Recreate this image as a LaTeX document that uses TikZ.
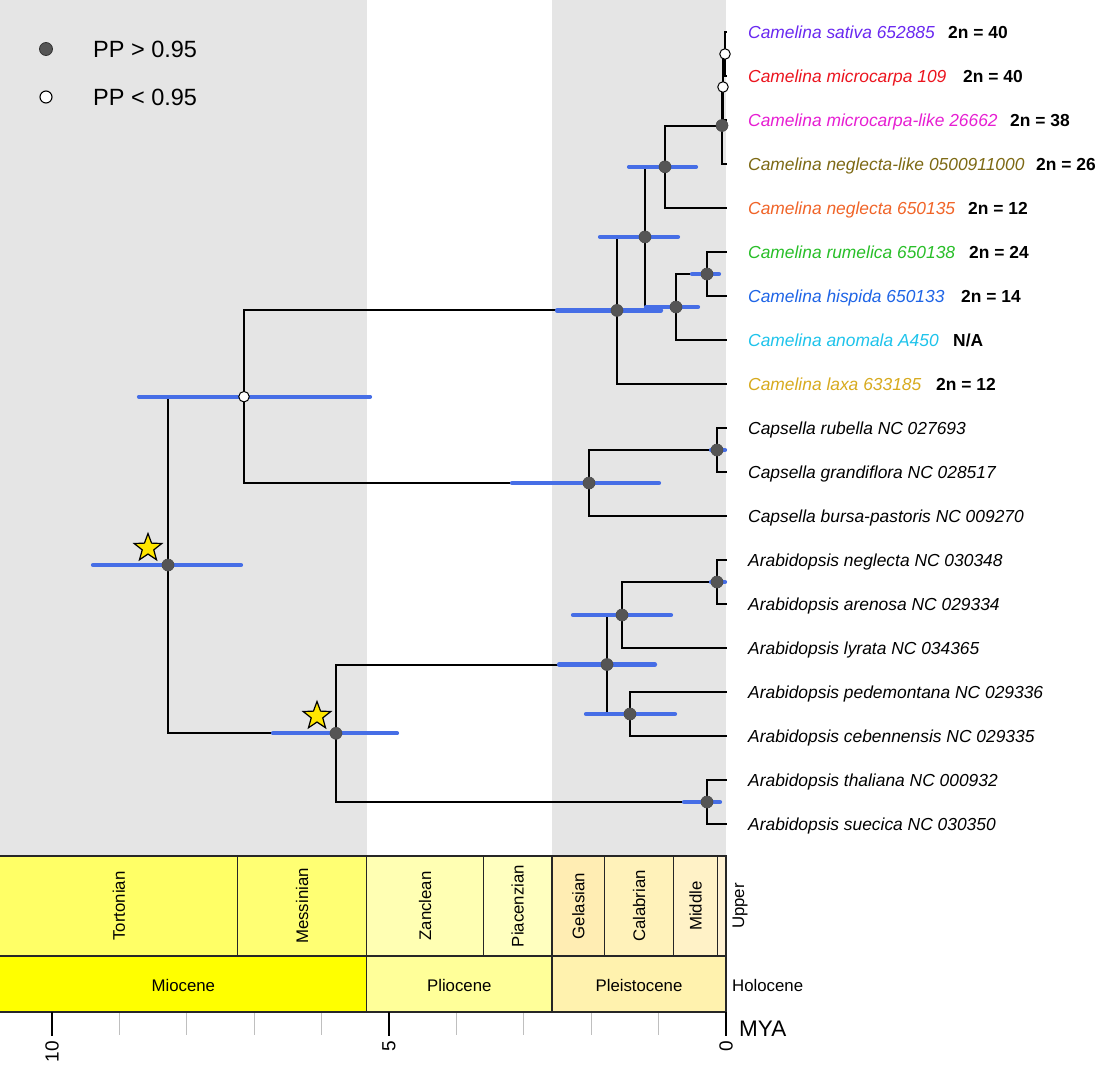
\documentclass[tikz,border=0pt]{standalone}
\usepackage{fontspec}
\setmainfont{Liberation Sans}
\usetikzlibrary{shapes.geometric}
\definecolor{bggray}{RGB}{229,229,229}
\definecolor{hpdblue}{RGB}{70,110,230}
\definecolor{dotgray}{RGB}{85,85,85}
\definecolor{staryellow}{RGB}{255,230,0}
\definecolor{cSat}{RGB}{105,40,240}
\definecolor{cMic}{RGB}{235,20,30}
\definecolor{cMicL}{RGB}{230,30,210}
\definecolor{cNegL}{RGB}{125,105,20}
\definecolor{cNeg}{RGB}{240,100,40}
\definecolor{cRum}{RGB}{40,190,40}
\definecolor{cHis}{RGB}{30,100,230}
\definecolor{cAno}{RGB}{30,195,235}
\definecolor{cLax}{RGB}{215,170,30}
\definecolor{cTort}{RGB}{255,255,102}
\definecolor{cMess}{RGB}{255,255,115}
\definecolor{cZanc}{RGB}{255,255,179}
\definecolor{cPiac}{RGB}{255,255,191}
\definecolor{cGela}{RGB}{255,237,179}
\definecolor{cCala}{RGB}{255,242,186}
\definecolor{cMidd}{RGB}{255,242,199}
\definecolor{cUppe}{RGB}{255,242,211}
\definecolor{cMioc}{RGB}{255,255,0}
\definecolor{cPlio}{RGB}{255,255,153}
\definecolor{cPlei}{RGB}{255,242,174}
\tikzset{
  br/.style={line width=2pt, black},
  hpd/.style={line width=4.2pt, hpdblue, line cap=round},
  ppd/.style={circle, fill=dotgray, draw=black!70, line width=0.6pt, inner sep=0pt, minimum size=12pt},
  ppw/.style={circle, fill=white, draw=black, line width=1pt, inner sep=0pt, minimum size=10.5pt},
  legd/.style={circle, fill=dotgray, draw=black!80, line width=0.8pt, inner sep=0pt, minimum size=13pt},
  legw/.style={circle, fill=white, draw=black, line width=1.1pt, inner sep=0pt, minimum size=12pt},
  nm/.style={anchor=base west, inner sep=0pt, font=\fontsize{17.4}{20}\selectfont\itshape},
  cn/.style={anchor=base west, inner sep=0pt, font=\fontsize{17.4}{20}\selectfont\bfseries},
  tsbox/.style={draw=black!85, line width=1.3pt},
  stg/.style={rotate=90, inner sep=0pt, font=\fontsize{16.8}{18}\selectfont},
  epo/.style={inner sep=0pt, font=\fontsize{16.8}{18}\selectfont},
  tickmaj/.style={line width=1.2pt, black},
  tickmin/.style={line width=1pt, black!25},
  ticklbl/.style={rotate=90, anchor=east, inner sep=0pt, font=\fontsize{19}{21}\selectfont},
  leg/.style={anchor=base west, inner sep=0pt, font=\fontsize{23.5}{26}\selectfont},
  starmark/.style={star, star points=5, star point ratio=2.4, minimum size=29pt, inner sep=0pt, fill=staryellow, draw=black, line width=1.2pt}
}
\begin{document}
\begin{tikzpicture}[x=1pt,y=-1pt]
\useasboundingbox (0,0) rectangle (1101,1071);
% background bands
\fill[bggray] (0,0) rectangle (366.6,856);
\fill[bggray] (552,0) rectangle (726,856);

% legend
\node[legd] (legd) at (46,49) {};
\node[leg] (legdt) at (93,57.4) {PP > 0.95};
\node[legw] (legw) at (46,97) {};
\node[leg] (legwt) at (93,105.4) {PP < 0.95};

% internal nodes
\coordinate (root) at (168,565);
\coordinate (CC) at (244,396.7);
\coordinate (Ar) at (336,733.3);
\coordinate (Cam) at (617,310.4);
\coordinate (A) at (645,236.9);
\coordinate (B) at (665,166.8);
\coordinate (D) at (722,125.5);
\coordinate (E) at (723,87);
\coordinate (F) at (725,54);
\coordinate (C) at (676,307);
\coordinate (G) at (707,274);
\coordinate (H) at (589,483);
\coordinate (I) at (717,450);
\coordinate (J) at (607,664.5);
\coordinate (L) at (622,615);
\coordinate (N) at (717,582);
\coordinate (M) at (630,714);
\coordinate (K) at (707,802);
% tips
\coordinate (t1) at (727,32);
\coordinate (t2) at (727,76);
\coordinate (t3) at (727,120);
\coordinate (t4) at (727,164);
\coordinate (t5) at (727,208);
\coordinate (t6) at (727,252);
\coordinate (t7) at (727,296);
\coordinate (t8) at (727,340);
\coordinate (t9) at (727,384);
\coordinate (t10) at (727,428);
\coordinate (t11) at (727,472);
\coordinate (t12) at (727,516);
\coordinate (t13) at (727,560);
\coordinate (t14) at (727,604);
\coordinate (t15) at (727,648);
\coordinate (t16) at (727,692);
\coordinate (t17) at (727,736);
\coordinate (t18) at (727,780);
\coordinate (t19) at (727,824);

% branches
\draw[br] (root) |- (CC); \draw[br] (root) |- (Ar);
\draw[br] (CC) |- (Cam); \draw[br] (CC) |- (H);
\draw[br] (Cam) |- (A); \draw[br] (Cam) |- (t9);
\draw[br] (A) |- (B); \draw[br] (A) |- (C);
\draw[br] (B) |- (D); \draw[br] (B) |- (t5);
\draw[br] (D) |- (E); \draw[br] (D) |- (t4);
\draw[br] (E) |- (F); \draw[br] (E) |- (t3);
\draw[br] (F) |- (t1); \draw[br] (F) |- (t2);
\draw[br] (C) |- (G); \draw[br] (C) |- (t8);
\draw[br] (G) |- (t6); \draw[br] (G) |- (t7);
\draw[br] (H) |- (I); \draw[br] (H) |- (t12);
\draw[br] (I) |- (t10); \draw[br] (I) |- (t11);
\draw[br] (Ar) |- (J); \draw[br] (Ar) |- (K);
\draw[br] (J) |- (L); \draw[br] (J) |- (M);
\draw[br] (L) |- (N); \draw[br] (L) |- (t15);
\draw[br] (N) |- (t13); \draw[br] (N) |- (t14);
\draw[br] (M) |- (t16); \draw[br] (M) |- (t17);
\draw[br] (K) |- (t18); \draw[br] (K) |- (t19);

% HPD bars
\draw[hpd] (93,565) -- (241,565);
\draw[hpd] (139,396.7) -- (370,396.7);
\draw[hpd] (273,733.3) -- (397,733.3);
\draw[hpd] (557,310.4) -- (661,310.4);
\draw[hpd] (600,236.9) -- (678,236.9);
\draw[hpd] (629,166.8) -- (696,166.8);
\draw[hpd] (646,307) -- (698,307);
\draw[hpd] (692,274) -- (719,274);
\draw[hpd] (512,483) -- (659,483);
\draw[hpd] (711,450) -- (725,450);
\draw[hpd] (559,664.5) -- (655,664.5);
\draw[hpd] (573,615) -- (671,615);
\draw[hpd] (711,582) -- (725,582);
\draw[hpd] (586,714) -- (675,714);
\draw[hpd] (684,802) -- (720,802);

% node dots
\node[ppd] (nroot) at (root) {};
\node[ppw] (nCC) at (CC) {};
\node[ppd] (nAr) at (Ar) {};
\node[ppd] (nCam) at (Cam) {};
\node[ppd] (nA) at (A) {};
\node[ppd] (nB) at (B) {};
\node[ppd] (nD) at (D) {};
\node[ppw] (nE) at (E) {};
\node[ppw] (nF) at (F) {};
\node[ppd] (nC) at (C) {};
\node[ppd] (nG) at (G) {};
\node[ppd] (nH) at (H) {};
\node[ppd] (nI) at (I) {};
\node[ppd] (nJ) at (J) {};
\node[ppd] (nL) at (L) {};
\node[ppd] (nN) at (N) {};
\node[ppd] (nM) at (M) {};
\node[ppd] (nK) at (K) {};

% stars
\node[starmark] (star1) at (148,548) {};
\node[starmark] (star2) at (317,716) {};

% tip labels
\node[nm, text=cSat] (l1) at (748,38.2) {Camelina sativa 652885};
\node[nm, text=cMic] (l2) at (748,82.2) {Camelina microcarpa 109};
\node[nm, text=cMicL] (l3) at (748,126.2) {Camelina microcarpa-like 26662};
\node[nm, text=cNegL] (l4) at (748,170.2) {Camelina neglecta-like 0500911000};
\node[nm, text=cNeg] (l5) at (748,214.2) {Camelina neglecta 650135};
\node[nm, text=cRum] (l6) at (748,258.2) {Camelina rumelica 650138};
\node[nm, text=cHis] (l7) at (748,302.2) {Camelina hispida 650133};
\node[nm, text=cAno] (l8) at (748,346.2) {Camelina anomala A450};
\node[nm, text=cLax] (l9) at (748,390.2) {Camelina laxa 633185};
\node[nm] (l10) at (748,434.2) {Capsella rubella NC 027693};
\node[nm] (l11) at (748,478.2) {Capsella grandiflora NC 028517};
\node[nm] (l12) at (748,522.2) {Capsella bursa-pastoris NC 009270};
\node[nm] (l13) at (748,566.2) {Arabidopsis neglecta NC 030348};
\node[nm] (l14) at (748,610.2) {Arabidopsis arenosa NC 029334};
\node[nm] (l15) at (748,654.2) {Arabidopsis lyrata NC 034365};
\node[nm] (l16) at (748,698.2) {Arabidopsis pedemontana NC 029336};
\node[nm] (l17) at (748,742.2) {Arabidopsis cebennensis NC 029335};
\node[nm] (l18) at (748,786.2) {Arabidopsis thaliana NC 000932};
\node[nm] (l19) at (748,830.2) {Arabidopsis suecica NC 030350};

% chromosome numbers
\node[cn] (c1) at (948,38.2) {2n = 40};
\node[cn] (c2) at (963,82.2) {2n = 40};
\node[cn] (c3) at (1010,126.2) {2n = 38};
\node[cn] (c4) at (1036,170.2) {2n = 26};
\node[cn] (c5) at (968,214.2) {2n = 12};
\node[cn] (c6) at (969,258.2) {2n = 24};
\node[cn] (c7) at (961,302.2) {2n = 14};
\node[cn] (c8) at (953,346.2) {N/A};
\node[cn] (c9) at (936,390.2) {2n = 12};

% time scale: stages
\draw[tsbox, fill=cTort] (-2,856) rectangle (237.6,956);
\draw[tsbox, fill=cMess] (237.6,856) rectangle (366.6,956);
\draw[tsbox, fill=cZanc] (366.6,856) rectangle (483.4,956);
\draw[tsbox, fill=cPiac] (483.4,856) rectangle (552,956);
\draw[tsbox, fill=cGela] (552,856) rectangle (604.7,956);
\draw[tsbox, fill=cCala] (604.7,856) rectangle (673.4,956);
\draw[tsbox, fill=cMidd] (673.4,856) rectangle (717.5,956);
\draw[tsbox, fill=cUppe] (717.5,856) rectangle (726,956);
% epochs
\draw[tsbox, fill=cMioc] (-2,956) rectangle (366.6,1012);
\draw[tsbox, fill=cPlio] (366.6,956) rectangle (552,1012);
\draw[tsbox, fill=cPlei] (552,956) rectangle (726,1012);

\node[stg] (sTort) at (118.8,906) {Tortonian};
\node[stg] (sMess) at (302,906) {Messinian};
\node[stg] (sZanc) at (425,906) {Zanclean};
\node[stg] (sPiac) at (517.7,906) {Piacenzian};
\node[stg] (sGela) at (578.4,906) {Gelasian};
\node[stg] (sCala) at (639,906) {Calabrian};
\node[stg] (sMidd) at (695.5,906) {Middle};
\node[stg] (sUppe) at (740,906) {Upper};
\node[epo] (eMioc) at (183.3,985) {Miocene};
\node[epo] (ePlio) at (459.3,985) {Pliocene};
\node[epo] (ePlei) at (639,985) {Pleistocene};
\node[epo, anchor=base west] (eHolo) at (732,991) {Holocene};

% axis ticks
\foreach \t in {1,2,3,4,6,7,8,9} {
  \draw[tickmin] ({726-67.4*\t},1013) -- ({726-67.4*\t},1035);
}
\draw[tickmaj] (726,1012) -- (726,1036);
\draw[tickmaj] (389,1012) -- (389,1036);
\draw[tickmaj] (52,1012) -- (52,1036);
\node[ticklbl] (x0) at (726,1041) {0};
\node[ticklbl] (x5) at (389,1041) {5};
\node[ticklbl] (x10) at (52,1041) {10};
\node[anchor=base west, inner sep=0pt, font=\fontsize{22.5}{25}\selectfont] (mya) at (739,1036) {MYA};
\end{tikzpicture}
\end{document}
